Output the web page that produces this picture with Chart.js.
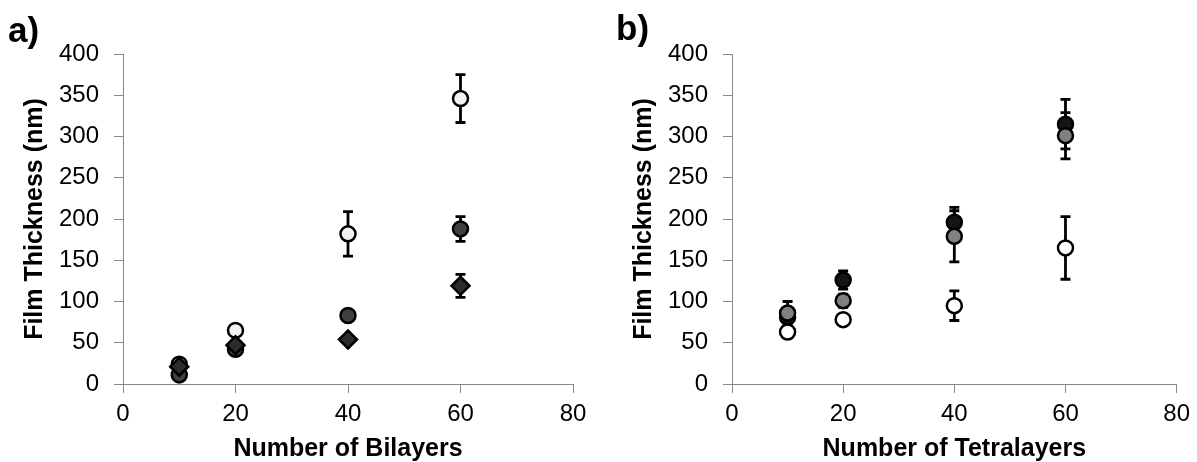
<!DOCTYPE html>
<html>
<head>
<meta charset="utf-8">
<script src="https://cdn.jsdelivr.net/npm/chart.js@4/dist/chart.umd.min.js"></script>
<style>
  html, body { margin: 0; padding: 0; background: #fff; }
  body { width: 1197px; height: 462px; position: relative; overflow: hidden; }
  .panel { position: absolute; top: 0; height: 462px; }
  .tag { position: absolute; font-family: "Liberation Sans", Arial, sans-serif; font-weight: bold; font-size: 35px; line-height: 1; color: #000; }
</style>
</head>
<body>
<div class="panel" style="left:0;width:598px"><canvas id="chartA" width="598" height="462"></canvas></div>
<div class="panel" style="left:598px;width:599px"><canvas id="chartB" width="599" height="462"></canvas></div>
<div class="tag" style="left:8px;top:12px">a)</div>
<div class="tag" style="left:616px;top:10px">b)</div>
<script>
// x positions (number of layers)
const layers = [10, 20, 40, 60];

// a) bilayers
const bilayerOpen = [24, 65, 182, 346];
const bilayerOpenErr = [0, 0, 27, 29];
const bilayerGray = [11, 42, 83, 188];
const bilayerGrayErr = [0, 0, 0, 15];
const bilayerDiamond = [21, 47, 54, 119];
const bilayerDiamondErr = [0, 0, 0, 14];

// b) tetralayers
const tetraDark = [81, 126, 196, 315];
const tetraDarkErr = [0, 11, 18, 30];
const tetraGray = [86, 101, 179, 301];
const tetraGrayErr = [14, 8, 31, 28];
const tetraOpen = [63, 78, 95, 165];
const tetraOpenErr = [0, 0, 18, 38];

const xTicks = [0, 20, 40, 60, 80];
const yTicks = [0, 50, 100, 150, 200, 250, 300, 350, 400];

const fontFamily = "'Liberation Sans', Arial, sans-serif";
const axisColor = "#888888";

function points(values, errors) {
  return values.map((v, i) => ({ x: layers[i], y: v, err: errors[i] }));
}

function series(values, errors, fill, shape, radius) {
  return {
    data: points(values, errors),
    pointStyle: shape,
    pointRadius: radius,
    pointHoverRadius: radius,
    pointBackgroundColor: fill,
    pointBorderColor: "#000000",
    pointBorderWidth: 2.5,
    showLine: false,
  };
}

// error bars drawn underneath the markers
const errorBars = {
  id: "errorBars",
  beforeDatasetsDraw(chart) {
    const c = chart.ctx;
    const xs = chart.scales.x;
    const ys = chart.scales.y;
    c.save();
    c.strokeStyle = "#000000";
    c.lineWidth = 2.8;
    chart.data.datasets.forEach((ds) => {
      ds.data.forEach((p) => {
        if (!p.err) return;
        const px = xs.getPixelForValue(p.x);
        const top = ys.getPixelForValue(p.y + p.err);
        const bot = ys.getPixelForValue(p.y - p.err);
        c.beginPath();
        c.moveTo(px, top);
        c.lineTo(px, bot);
        c.moveTo(px - 5, top);
        c.lineTo(px + 5, top);
        c.moveTo(px - 5, bot);
        c.lineTo(px + 5, bot);
        c.stroke();
      });
    });
    c.restore();
  },
};

function makeChart(id, datasets, xTitle, yWidth, yTitlePad, rightPad) {
  const ctx = document.getElementById(id).getContext("2d");
  return new Chart(ctx, {
    type: "scatter",
    data: { datasets: datasets },
    plugins: [errorBars],
    options: {
      responsive: false,
      animation: false,
      layout: { padding: { top: 54, right: rightPad, bottom: 0, left: 0 } },
      plugins: { legend: { display: false }, tooltip: { enabled: false } },
      scales: {
        x: {
          type: "linear",
          min: 0,
          max: 80,
          afterBuildTicks: (scale) => {
            scale.ticks = xTicks.map((v) => ({ value: v }));
          },
          afterFit: (scale) => {
            scale.height = 78;
          },
          ticks: { color: "#000000", padding: 7, font: { family: fontFamily, size: 24 } },
          grid: { drawOnChartArea: false, drawTicks: true, tickLength: 9, color: axisColor },
          border: { display: true, color: axisColor, width: 1 },
          title: {
            display: true,
            text: xTitle,
            color: "#000000",
            padding: { top: 0, bottom: 0 },
            font: { family: fontFamily, size: 25, weight: "bold", lineHeight: 1 },
          },
        },
        y: {
          type: "linear",
          min: 0,
          max: 400,
          afterBuildTicks: (scale) => {
            scale.ticks = yTicks.map((v) => ({ value: v }));
          },
          afterFit: (scale) => {
            scale.width = yWidth;
          },
          ticks: { color: "#000000", padding: 15, font: { family: fontFamily, size: 24 } },
          grid: { drawOnChartArea: false, drawTicks: true, tickLength: 9, color: axisColor },
          border: { display: true, color: axisColor, width: 1 },
          title: {
            display: true,
            text: "Film Thickness (nm)",
            color: "#000000",
            padding: { top: yTitlePad, bottom: 0 },
            font: { family: fontFamily, size: 25, weight: "bold", lineHeight: 1 },
          },
        },
      },
    },
  });
}

// first dataset is drawn on top
makeChart(
  "chartA",
  [
    series(bilayerDiamond, bilayerDiamondErr, "#2b2b2b", "rectRot", 9),
    series(bilayerGray, bilayerGrayErr, "#404040", "circle", 7.5),
    series(bilayerOpen, bilayerOpenErr, "#f2f2f2", "circle", 7.5),
  ],
  "Number of Bilayers",
  123,
  23,
  25
);

makeChart(
  "chartB",
  [
    series(tetraOpen, tetraOpenErr, "#ffffff", "circle", 7.5),
    series(tetraGray, tetraGrayErr, "#808080", "circle", 7.5),
    series(tetraDark, tetraDarkErr, "#141414", "circle", 7.5),
  ],
  "Number of Tetralayers",
  134,
  34,
  17
);
</script>
</body>
</html>
